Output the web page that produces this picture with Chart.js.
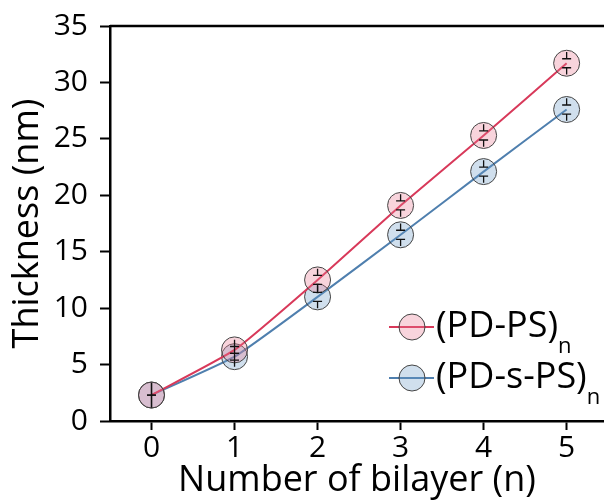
<!DOCTYPE html>
<html>
<head>
<meta charset="utf-8">
<script src="https://cdn.jsdelivr.net/npm/chart.js@4.4.1/dist/chart.umd.min.js"></script>
<style>
  html, body { margin: 0; padding: 0; background: #fff; }
  #wrap { width: 604px; height: 501px; }
</style>
</head>
<body>
<div id="wrap"><canvas id="chart"></canvas></div>
<script>
// === DATA ===
const bilayers = [0, 1, 2, 3, 4, 5];
const pdPs = [2.3, 6.3, 12.5, 19.1, 25.3, 31.7];
const pdPsErr = [1.1, 0.9, 1.0, 1.0, 1.0, 1.0];     // outer end of the bar
const pdPsCap = [0.0, 0.3, 0.4, 0.4, 0.4, 0.4];     // where the cap sits
const pdSPs = [2.3, 5.7, 11.0, 16.5, 22.1, 27.6];
const pdSPsErr = [1.1, 0.9, 1.0, 1.0, 1.0, 1.0];
const pdSPsCap = [0.0, 0.3, 0.4, 0.4, 0.4, 0.4];
const xTicks = [0, 1, 2, 3, 4, 5];
const yTicks = [0, 5, 10, 15, 20, 25, 30, 35];
const seriesNames = ["(PD-PS)", "(PD-s-PS)"];

const FONT = "'Open Sans', sans-serif";
const RED = "#d8395a";
const BLUE = "#4f7fae";
const RED_FILL = "rgba(232, 120, 145, 0.32)";
const BLUE_FILL = "rgba(110, 155, 200, 0.32)";

// error bars drawn through the library's scales
const errorBars = {
    id: "errorBars",
    afterDatasetsDraw(chart) {
        const { ctx, scales } = chart;
        const errs = [pdPsErr, pdSPsErr];
        const caps = [pdPsCap, pdSPsCap];
        ctx.save();
        ctx.strokeStyle = "#111";
        ctx.lineWidth = 1.3;
        chart.data.datasets.forEach((ds, i) => {
            ds.data.forEach((pt) => {
                const idx = bilayers.indexOf(pt.x);
                const e = errs[i][idx];
                const c = caps[i][idx];
                const px = scales.x.getPixelForValue(pt.x);
                const top = scales.y.getPixelForValue(pt.y + e);
                const bot = scales.y.getPixelForValue(pt.y - e);
                const capTop = scales.y.getPixelForValue(pt.y + c);
                const capBot = scales.y.getPixelForValue(pt.y - c);
                ctx.beginPath();
                ctx.moveTo(px, top); ctx.lineTo(px, capTop);
                ctx.moveTo(px, capBot); ctx.lineTo(px, bot);
                ctx.moveTo(px - 4.5, capTop); ctx.lineTo(px + 4.5, capTop);
                ctx.moveTo(px - 4.5, capBot); ctx.lineTo(px + 4.5, capBot);
                ctx.stroke();
            });
        });
        ctx.restore();
    },
};

// top spine + legend with subscript n
const frame = {
    id: "frame",
    afterDraw(chart) {
        const { ctx, chartArea } = chart;
        ctx.save();
        ctx.strokeStyle = "#000";
        ctx.lineWidth = 2.5;
        ctx.beginPath();
        ctx.moveTo(chartArea.left, chartArea.top);
        ctx.lineTo(chartArea.right, chartArea.top);
        ctx.stroke();

        const rows = [
            { name: seriesNames[0], line: RED, fill: RED_FILL, y: 327 },
            { name: seriesNames[1], line: BLUE, fill: BLUE_FILL, y: 378 },
        ];
        rows.forEach((r) => {
            ctx.strokeStyle = r.line;
            ctx.lineWidth = 2;
            ctx.beginPath();
            ctx.moveTo(389, r.y); ctx.lineTo(434, r.y);
            ctx.stroke();
            ctx.beginPath();
            ctx.arc(412, r.y, 13, 0, Math.PI * 2);
            ctx.fillStyle = r.fill;
            ctx.fill();
            ctx.strokeStyle = "#444";
            ctx.lineWidth = 1;
            ctx.stroke();
            ctx.fillStyle = "#000";
            ctx.textBaseline = "middle";
            ctx.textAlign = "left";
            ctx.font = "36px " + FONT;
            ctx.fillText(r.name, 436, r.y);
            const w = ctx.measureText(r.name).width;
            ctx.font = "22px " + FONT;
            ctx.fillText("n", 436 + w, r.y + 20);
        });
        ctx.restore();
    },
};

function makeDataset(label, ys, line, fill) {
    return {
        label,
        data: bilayers.map((x, i) => ({ x, y: ys[i] })),
        borderColor: line,
        borderWidth: 2,
        backgroundColor: fill,
        pointBackgroundColor: fill,
        pointBorderColor: "#444",
        pointBorderWidth: 1,
        pointRadius: 13,
        pointHoverRadius: 13,
        tension: 0.15,
    };
}

new Chart(document.getElementById("chart"), {
    type: "line",
    data: {
        datasets: [
            makeDataset(seriesNames[0], pdPs, RED, RED_FILL),
            makeDataset(seriesNames[1], pdSPs, BLUE, BLUE_FILL),
        ],
    },
    plugins: [errorBars, frame],
    options: {
        responsive: true,
        maintainAspectRatio: false,
        animation: false,
        layout: { autoPadding: false, padding: { top: 26, right: 0, left: 0, bottom: 0 } },
        plugins: { legend: { display: false }, tooltip: { enabled: false } },
        scales: {
            x: {
                type: "linear",
                min: -0.5,
                max: 5.45,
                afterBuildTicks: (s) => { s.ticks = xTicks.map((v) => ({ value: v })); },
                afterFit: (s) => { s.height = 80; s.paddingRight = 0; s.paddingLeft = 0; },
                border: { color: "#000", width: 2.5 },
                grid: { drawOnChartArea: false, color: "#000", tickLength: 9, tickWidth: 2 },
                ticks: { color: "#000", font: { family: FONT, size: 30 }, padding: 0, maxRotation: 0 },
                title: {
                    display: true,
                    text: "Number of bilayer (n)",
                    color: "#000",
                    font: { family: FONT, size: 36, lineHeight: 1.1 },
                    padding: { top: 0, bottom: 0 },
                },
            },
            y: {
                min: 0,
                max: 35,
                afterBuildTicks: (s) => { s.ticks = yTicks.map((v) => ({ value: v })); },
                afterFit: (s) => { s.width = 110; s.paddingTop = 0; s.paddingBottom = 0; },
                border: { color: "#000", width: 2.5 },
                grid: { drawOnChartArea: false, color: "#000", tickLength: 10, tickWidth: 2 },
                ticks: { color: "#000", font: { family: FONT, size: 30 }, padding: 12 },
                title: {
                    display: true,
                    text: "Thickness (nm)",
                    color: "#000",
                    font: { family: FONT, size: 36, lineHeight: 1.1 },
                    padding: { top: 8, bottom: 0 },
                },
            },
        },
    },
});
</script>
</body>
</html>
